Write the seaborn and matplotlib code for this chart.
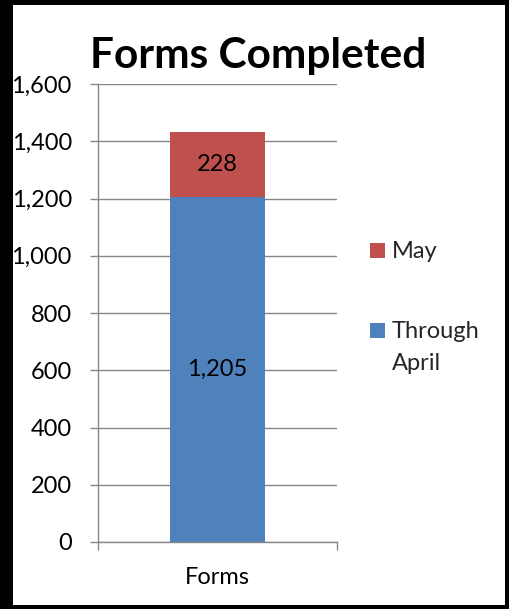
import matplotlib
matplotlib.use("Agg")
import matplotlib.pyplot as plt
from matplotlib.patches import Rectangle
import seaborn as sns

# ---- data ----
categories = ["Forms"]
through_april = [1205]
may = [228]
series_names = ["May", "Through April"]
y_ticks = [0, 200, 400, 600, 800, 1000, 1200, 1400, 1600]
title = "Forms Completed"

totals = [a + b for a, b in zip(through_april, may)]

RED = "#C0504D"
BLUE = "#4F81BD"
GRAY = "#868686"
FS = 17

sns.set_style("white")
plt.rcParams["font.family"] = ["Lato", "DejaVu Sans"]

W, H = 510, 609
fig = plt.figure(figsize=(W / 100, H / 100), dpi=100)
fig.patch.set_facecolor("white")

def fx(px):
    return px / W

def fy(py):
    return (H - py) / H

ax = fig.add_axes([fx(98), fy(542), fx(337) - fx(98), fy(84) - fy(542)])

sns.barplot(x=categories, y=totals, color=RED, width=0.4, linewidth=0, ax=ax, saturation=1)
sns.barplot(x=categories, y=through_april, color=BLUE, width=0.4, linewidth=0, ax=ax, saturation=1)

ax.set_xlim(-0.5, 0.5)
ax.set_ylim(0, 1600)
ax.set_yticks(y_ticks)
ax.set_yticklabels([f"{v:,}" for v in y_ticks])
ax.set_xticks([0])
ax.set_xticklabels(categories)
ax.set_xticks([-0.5, 0.5], minor=True)
ax.set_xlabel("")
ax.set_ylabel("")

ax.set_axisbelow(True)
ax.yaxis.grid(True, color=GRAY, linewidth=1.0)
ax.xaxis.grid(False)

for s in ["top", "right"]:
    ax.spines[s].set_visible(False)
for s in ["left", "bottom"]:
    ax.spines[s].set_color(GRAY)
    ax.spines[s].set_linewidth(1.0)

ax.tick_params(axis="y", which="major", left=True, length=5.8, width=1.0, color=GRAY,
               direction="out", pad=13, labelsize=FS, labelcolor="black")
ax.tick_params(axis="x", which="major", bottom=True, length=0, pad=18, labelsize=FS,
               labelcolor="black")
ax.tick_params(axis="x", which="minor", bottom=True, length=5.8, width=1.0, color=GRAY,
               direction="out")

# data labels
for i, (a, b) in enumerate(zip(through_april, may)):
    ax.text(i, a / 2, f"{a:,}", ha="center", va="center", fontsize=FS, color="black")
    ax.text(i, a + b / 2, f"{b:,}", ha="center", va="center", fontsize=FS, color="black")

# title
fig.text(fx(258.5), fy(68), title, ha="center", va="baseline", fontsize=30.5,
         fontweight="bold", color="black")

# legend (manual, Excel-style with wrapped label)
fig.add_artist(Rectangle((fx(370), fy(257.7)), fx(15), 15 / H, transform=fig.transFigure,
                         facecolor=RED, edgecolor="none"))
fig.text(fx(391.5), fy(257.7), series_names[0], ha="left", va="baseline", fontsize=FS)
fig.add_artist(Rectangle((fx(370), fy(337.7)), fx(15), 15 / H, transform=fig.transFigure,
                         facecolor=BLUE, edgecolor="none"))
words = series_names[1].split(" ")
fig.text(fx(391.5), fy(337.7), words[0], ha="left", va="baseline", fontsize=FS)
fig.text(fx(391.5), fy(370), words[1], ha="left", va="baseline", fontsize=FS)

# black frame
for (x0, y0, w, h) in [(0, 0, 12.7, H), (505.5, 0, 4.5, H), (0, 0, W, 5), (0, 604.5, W, 4.5)]:
    fig.add_artist(Rectangle((x0 / W, (H - y0 - h) / H), w / W, h / H, transform=fig.transFigure,
                             facecolor="black", edgecolor="none"))

fig.savefig("out.png", dpi=100)
